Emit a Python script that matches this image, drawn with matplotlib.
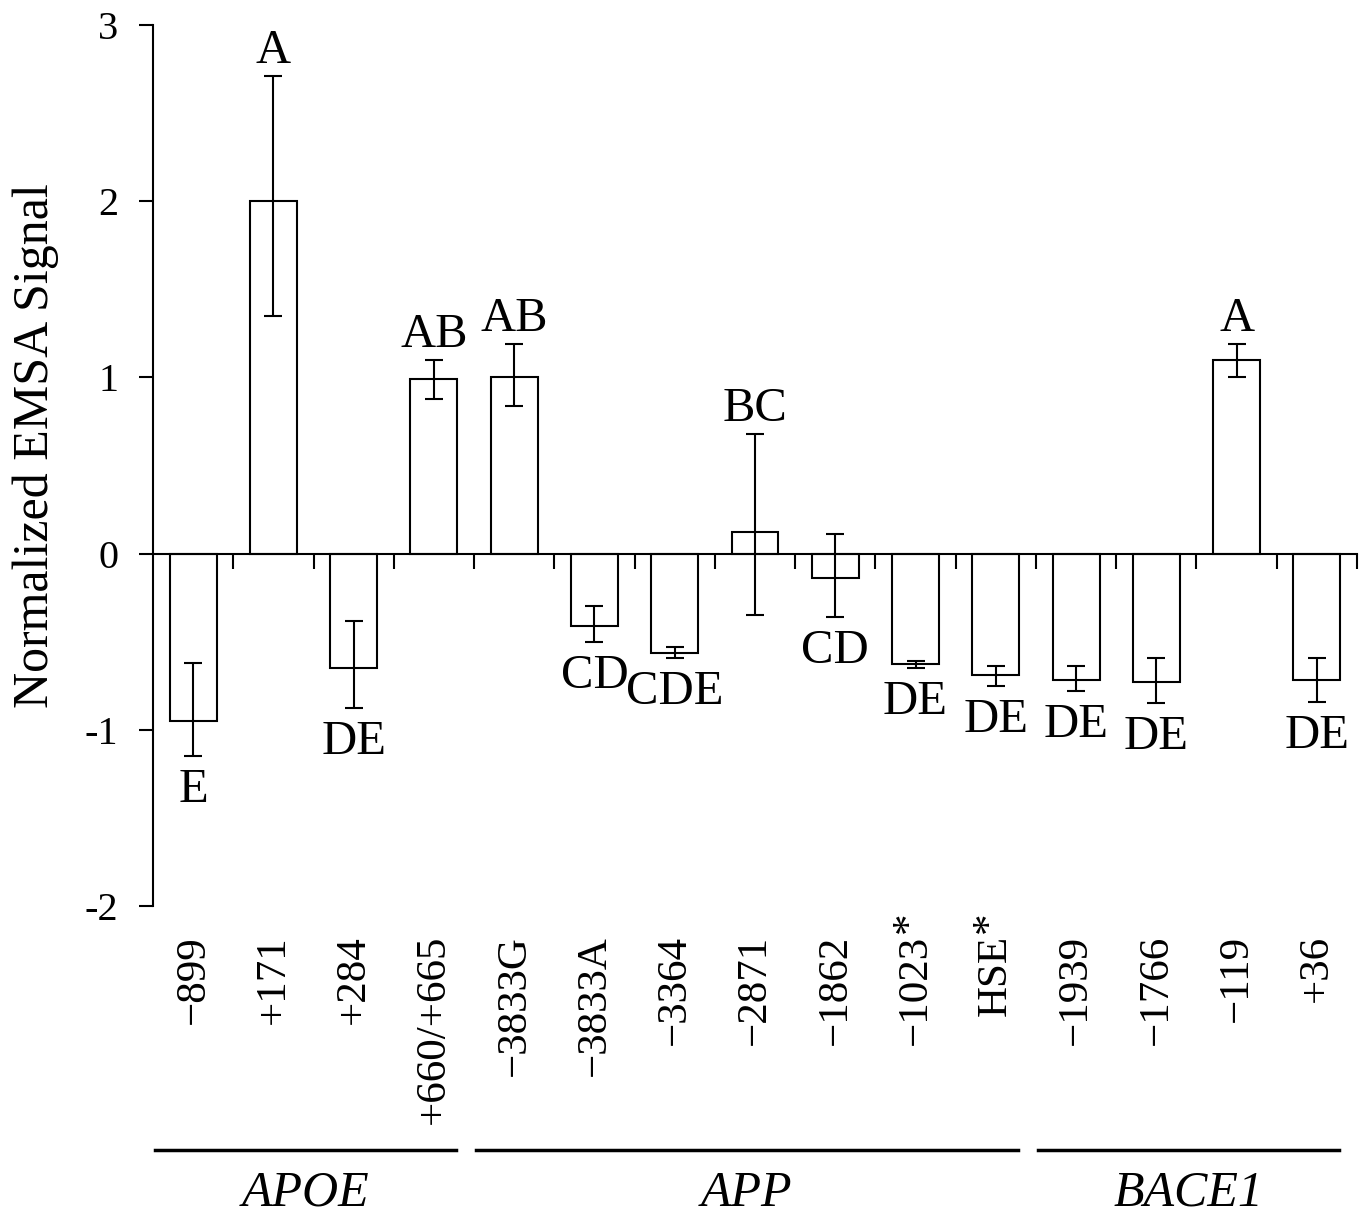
import matplotlib
matplotlib.use('Agg')
import matplotlib.pyplot as plt
import numpy as np

plt.rcParams['font.family'] = ['Liberation Serif', 'DejaVu Serif']
plt.rcParams['axes.unicode_minus'] = False

# binding sites (x categories)
sites = ['−899', '+171', '+284', '+660/+665', '−3833G', '−3833A', '−3364',
         '−2871', '−1862', '−1023', 'HSE', '−1939', '−1766', '−119', '+36']
starred = [False, False, False, False, False, False, False,
           False, False, True, True, False, False, False, False]

# mean normalized signal and error bar ends
signal = [-0.95, 2.00, -0.65, 0.99, 1.00, -0.41, -0.565,
          0.12, -0.14, -0.625, -0.69, -0.72, -0.73, 1.10, -0.715]
err_hi = [-0.62, 2.71, -0.38, 1.10, 1.19, -0.30, -0.53,
          0.68, 0.11, -0.61, -0.64, -0.64, -0.59, 1.19, -0.59]
err_lo = [-1.15, 1.35, -0.875, 0.88, 0.835, -0.50, -0.59,
          -0.35, -0.36, -0.65, -0.75, -0.78, -0.85, 1.005, -0.845]
letters = ['E', 'A', 'DE', 'AB', 'AB', 'CD', 'CDE',
           'BC', 'CD', 'DE', 'DE', 'DE', 'DE', 'A', 'DE']

groups = ['APOE', 'APP', 'BACE1']
group_first = [0, 4, 11]
group_last = [3, 10, 14]

x = np.arange(len(sites))
sig = np.array(signal)
yerr = [sig - np.array(err_lo), np.array(err_hi) - sig]

fig = plt.figure(figsize=(13.63, 12.17), dpi=100)
ax = fig.add_axes([153 / 1363, 311 / 1217, 1204 / 1363, 881 / 1217])

ax.bar(x, signal, width=0.585, color='white', edgecolor='black', linewidth=1.5, zorder=2)
ax.errorbar(x, signal, yerr=yerr, fmt='none', ecolor='black', elinewidth=1.5,
            capsize=6.8, capthick=1.5, zorder=3)

ax.set_xlim(-0.5, 14.5)
ax.set_ylim(-2, 3)

ax.spines['top'].set_visible(False)
ax.spines['right'].set_visible(False)
ax.spines['bottom'].set_position(('data', 0))
ax.spines['bottom'].set_linewidth(1.5)
ax.spines['left'].set_linewidth(1.5)

ax.set_xticks(np.arange(0.5, 14.6, 1))
ax.set_xticklabels([])
ax.tick_params(axis='x', direction='out', length=10.5, width=1.5)
ax.set_yticks(range(-2, 4))
ax.tick_params(axis='y', direction='out', length=10, width=1.5, pad=15)
for t in ax.get_yticklabels():
    t.set_fontsize(29)

ax.set_ylabel('Normalized EMSA Signal', fontsize=36)
ax.yaxis.set_label_coords(-0.078, 0.523)

xtr = ax.get_xaxis_transform()

# site labels under the plot
for i, s in enumerate(sites):
    ax.annotate(s, xy=(i, 0), xycoords=xtr, xytext=(0, -29), textcoords='offset pixels',
                rotation=90, rotation_mode='anchor', ha='right', va='center', fontsize=31)
    if starred[i]:
        ax.annotate('*', xy=(i, 0), xycoords=xtr, xytext=(-6, -27), textcoords='offset pixels',
                    rotation=90, rotation_mode='anchor', ha='left', va='center', fontsize=31)

# significance letters
for i, lab in enumerate(letters):
    if signal[i] > 0:
        ax.annotate(lab, xy=(i, err_hi[i]), xytext=(0, 13), textcoords='offset pixels',
                    ha='center', va='baseline', fontsize=35)
    else:
        ax.annotate(lab, xy=(i, err_lo[i]), xytext=(0, -46), textcoords='offset pixels',
                    ha='center', va='baseline', fontsize=35)

# gene group brackets
for g, a, b in zip(groups, group_first, group_last):
    ax.plot([a - 0.48, b + 0.28], [-0.277, -0.277], transform=xtr, clip_on=False,
            color='black', linewidth=2.5)
    ax.text((a + b) / 2 - 0.1, -0.3405, g, transform=xtr, ha='center', va='baseline',
            fontsize=36, style='italic')

fig.savefig('out.png', dpi=100)
